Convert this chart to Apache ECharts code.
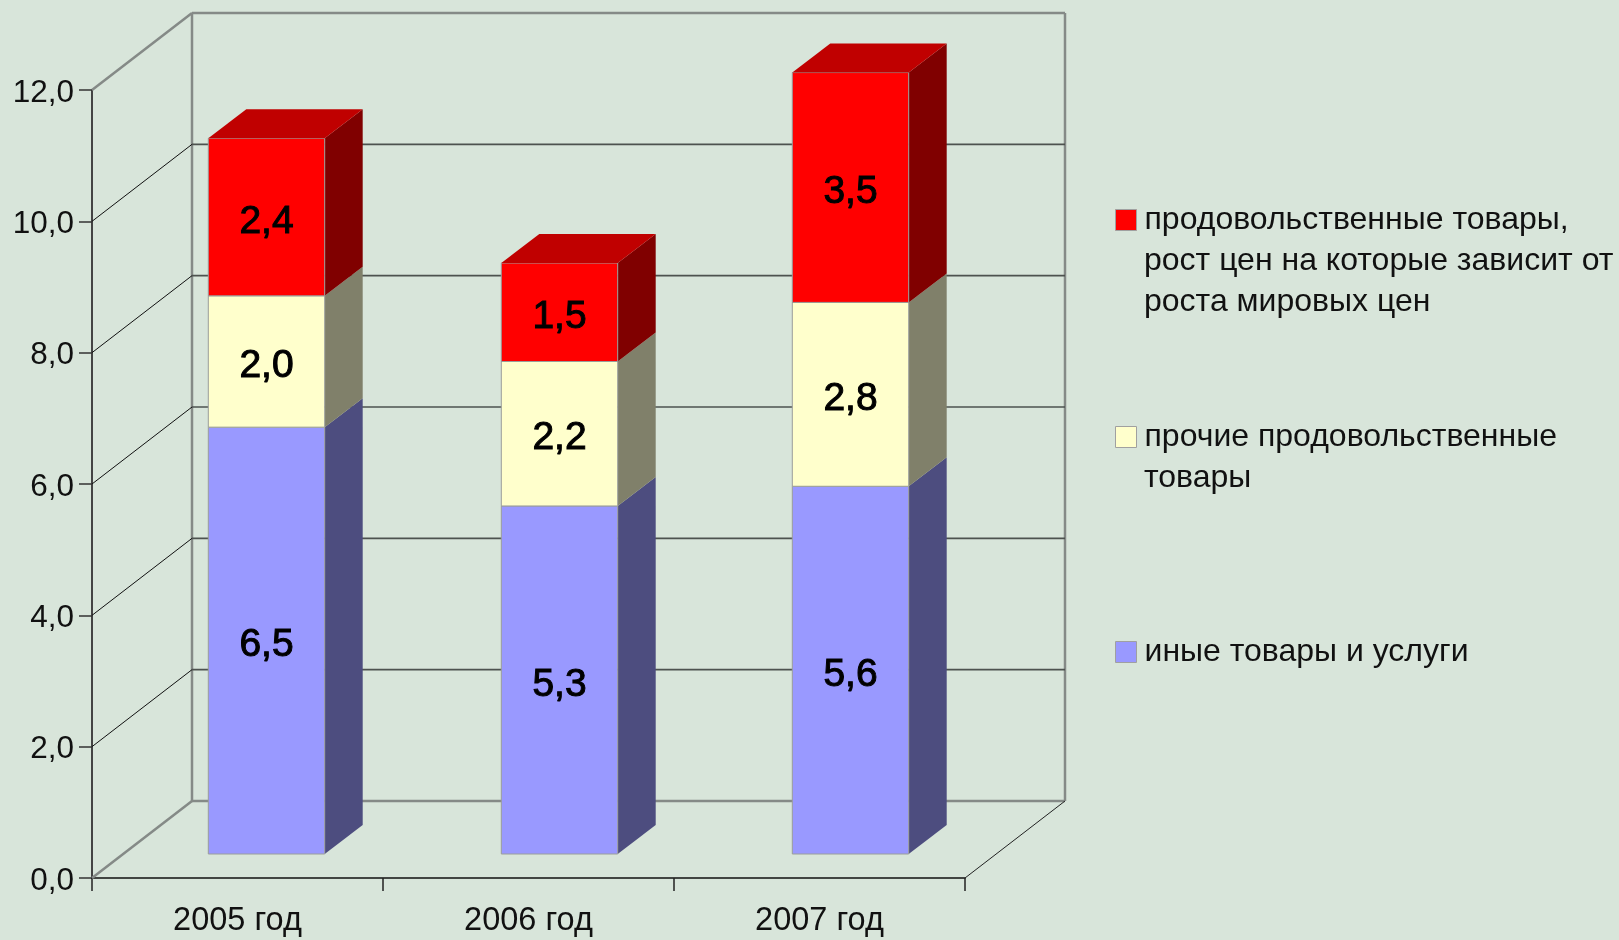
<!DOCTYPE html>
<html><head><meta charset="utf-8">
<style>html,body{margin:0;padding:0;background:#D8E5DA}#c{width:1619px;height:940px}</style>
<script src="https://cdn.jsdelivr.net/npm/echarts@6/dist/echarts.min.js"></script>
</head><body><div id="c"></div>
<script>
const categories = ['2005 год', '2006 год', '2007 год'];
const otherGoods = [6.5, 5.3, 5.6];
const otherFood = [2.0, 2.2, 2.8];
const worldFood = [2.4, 1.5, 3.5];
const yTicks = [0, 2, 4, 6, 8, 10, 12];
const legendLines = [
  ['продовольственные товары,', 'рост цен на которые зависит от', 'роста мировых цен'],
  ['прочие продовольственные', 'товары'],
  ['иные товары и услуги']
];
const seriesNames = legendLines.map(l => l.join(' '));

const FONT = '"Liberation Sans", Arial, sans-serif';
const WALL = [100, -77];       // depth of the whole plot box
const BASE = [31, -24];        // how far the bars stand behind the front plane
const BAR_D = [38, -29];       // depth of one bar
const BAR_W = 0.4;
const BAR_NUDGE = [-2, 0, 0];  // the source's first bar sits slightly left of its band
const GRID = {left: 92, right: 654, top: 90, bottom: 62};

function fmt(v) { return v.toFixed(1).replace('.', ','); }

function wallItem(params, api) {
  const cs = params.coordSys;
  const v = api.value(0);
  const y = api.coord([0, v])[1];
  const x0 = cs.x, x1 = cs.x + cs.width;
  const bx0 = x0 + WALL[0], bx1 = x1 + WALL[0], by = y + WALL[1];
  const edge = (v === 0 || v === yTicks[yTicks.length - 1]);
  const kids = [];
  const line = (a, b, c, d, stroke, w) => kids.push({type: 'line', shape: {x1: a, y1: b, x2: c, y2: d}, style: {stroke, lineWidth: w}});
  line(x0, y, bx0, by, edge ? '#858a87' : '#111', edge ? 2.5 : 1);
  line(bx0, by, bx1, by, edge ? '#858a87' : '#4d524f', edge ? 2.5 : 1.6);
  if (v === 0) {
    line(bx0, by, bx0, cs.y + WALL[1], '#858a87', 2.5);
    line(bx1, by, bx1, cs.y + WALL[1], '#858a87', 2.5);
    line(x1, y, bx1, by, '#222', 1);
  }
  return {type: 'group', children: kids};
}

function barItem(front, side, top, values) {
  return function (params, api) {
    const i = params.dataIndex;
    const c = api.value(0);
    const a = api.coord([c, api.value(1)]);
    const b = api.coord([c, api.value(2)]);
    const w = api.size([1, 0])[0] * BAR_W;
    const xl = a[0] + BASE[0] - w / 2 + BAR_NUDGE[i], xr = xl + w;
    const yb = a[1] + BASE[1], yt = b[1] + BASE[1];
    const kids = [
      {type: 'polygon', shape: {points: [[xr, yb], [xr + BAR_D[0], yb + BAR_D[1]], [xr + BAR_D[0], yt + BAR_D[1]], [xr, yt]]},
        style: {fill: side}},
      {type: 'rect', shape: {x: xl, y: yt, width: w, height: yb - yt},
        style: {fill: front, stroke: '#9a9d9a', lineWidth: 1}},
    ];
    if (top) kids.push({type: 'polygon', shape: {points: [[xl, yt], [xr, yt], [xr + BAR_D[0], yt + BAR_D[1]], [xl + BAR_D[0], yt + BAR_D[1]]]},
        style: {fill: top}});
    kids.push({type: 'text', style: {text: fmt(values[i]), x: xl + w / 2, y: (yt + yb) / 2 + 5, align: 'center', verticalAlign: 'middle',
        font: '39px ' + FONT, fill: '#000', stroke: '#000', lineWidth: 1}});
    return {type: 'group', children: kids};
  };
}

const stackData = (vals, under) => vals.map((v, i) => [i, under[i], +(under[i] + v).toFixed(2)]);
const sum2 = otherGoods.map((v, i) => v + otherFood[i]);

const barSeries = (name, vals, under, front, side, top) => ({
  type: 'custom', name, coordinateSystem: 'cartesian2d', z: 5,
  itemStyle: {color: front},
  encode: {x: 0, y: [1, 2]},
  renderItem: barItem(front, side, top, vals),
  data: stackData(vals, under)
});

const legendTops = [204, 421, 636];
const legends = legendLines.map((l, i) => ({
  left: 1115, top: legendTops[i], icon: 'rect', orient: 'vertical', padding: 0,
  itemWidth: 21, itemHeight: 21, itemGap: 8, selectedMode: false,
  itemStyle: {borderColor: '#a0a0a0', borderWidth: 1},
  data: [seriesNames[i]],
  formatter: () => l[0],
  textStyle: {fontFamily: FONT, fontSize: 32, color: '#111', padding: [0, 0, 0, 3]}
}));
const LINE_H = 41;
const extraText = [];
legendLines.forEach((l, i) => l.slice(1).forEach((t, j) => extraText.push({
  type: 'text', left: 1144, top: legendTops[i] + LINE_H * (j + 1),
  style: {text: t, font: '32px ' + FONT, fill: '#111'}
})));

const chart = echarts.init(document.getElementById('c'), null, {renderer: 'canvas'});
chart.setOption({
  animation: false,
  backgroundColor: '#D8E5DA',
  grid: GRID,
  legend: legends,
  graphic: extraText,
  xAxis: {
    type: 'category', data: categories, boundaryGap: true,
    axisLine: {lineStyle: {color: '#111', width: 1.5}},
    axisTick: {show: true, alignWithLabel: false, length: 13, lineStyle: {color: '#222', width: 1.5}},
    axisLabel: {fontFamily: FONT, fontSize: 32.5, color: '#111', margin: 27, interval: 0},
    splitLine: {show: false}
  },
  yAxis: {
    type: 'value', min: 0, max: 12, interval: 2,
    axisLine: {show: true, lineStyle: {color: '#444', width: 2}},
    axisTick: {show: true, length: 13, lineStyle: {color: '#333', width: 1.5}},
    axisLabel: {
      margin: 18, formatter: v => '{t|' + fmt(v) + '}',
      rich: {t: {fontFamily: FONT, fontSize: 31.5, color: '#111', padding: [6, 0, 0, 0]}}
    },
    splitLine: {show: false}
  },
  series: [
    {type: 'custom', name: 'walls', z: 1, silent: true, renderItem: wallItem, encode: {y: 0}, data: yTicks.map(v => [v])},
    barSeries(seriesNames[2], otherGoods, otherGoods.map(() => 0), '#9999FF', '#4D4D7F', null),
    barSeries(seriesNames[1], otherFood, otherGoods, '#FFFFCC', '#80806A', null),
    barSeries(seriesNames[0], worldFood, sum2, '#FF0000', '#800000', '#C00000')
  ]
});
</script></body></html>
